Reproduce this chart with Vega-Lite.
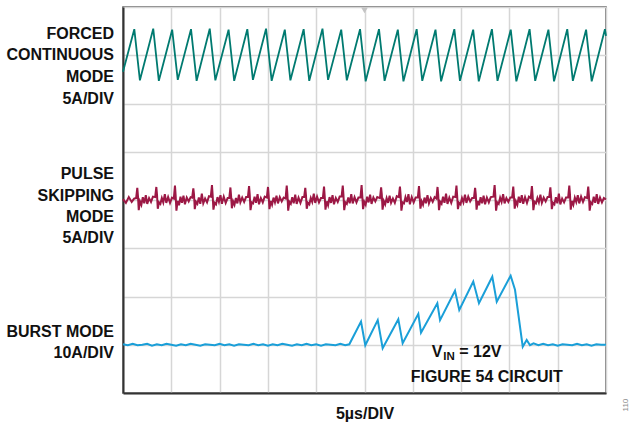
{
  "$schema": "https://vega.github.io/schema/vega-lite/v6.json",
  "width": 483,
  "height": 386,
  "autosize": {"type": "none"},
  "padding": {"left": 123, "top": 7, "right": 26, "bottom": 32},
  "background": "white",
  "config": {
    "view": {"stroke": "#555555", "strokeWidth": 1.5},
    "font": "Liberation Sans"
  },
  "datasets": {
    "fcm": [
      {"t":0,"v":6.66},
      {"t":1.17,"v":7.54},{"t":1.75,"v":6.48},
      {"t":3.13,"v":7.55},{"t":3.71,"v":6.47},
      {"t":5.09,"v":7.53},{"t":5.67,"v":6.49},
      {"t":7.04,"v":7.54},{"t":7.62,"v":6.47},
      {"t":8.98,"v":7.55},{"t":9.56,"v":6.48},
      {"t":10.93,"v":7.53},{"t":11.51,"v":6.47},
      {"t":12.87,"v":7.54},{"t":13.45,"v":6.49},
      {"t":14.81,"v":7.55},{"t":15.39,"v":6.47},
      {"t":16.75,"v":7.53},{"t":17.33,"v":6.48},
      {"t":18.70,"v":7.54},{"t":19.28,"v":6.47},
      {"t":20.65,"v":7.55},{"t":21.23,"v":6.49},
      {"t":22.59,"v":7.53},{"t":23.17,"v":6.48},
      {"t":24.54,"v":7.54},{"t":25.12,"v":6.46},
      {"t":26.50,"v":7.54},{"t":27.08,"v":6.47},
      {"t":28.45,"v":7.53},{"t":29.03,"v":6.46},
      {"t":30.40,"v":7.54},{"t":30.98,"v":6.47},
      {"t":32.35,"v":7.53},{"t":32.93,"v":6.46},
      {"t":34.30,"v":7.54},{"t":34.88,"v":6.47},
      {"t":36.25,"v":7.53},{"t":36.83,"v":6.46},
      {"t":38.19,"v":7.54},{"t":38.77,"v":6.47},
      {"t":40.14,"v":7.53},{"t":40.72,"v":6.46},
      {"t":42.09,"v":7.54},{"t":42.67,"v":6.47},
      {"t":44.04,"v":7.53},{"t":44.62,"v":6.46},
      {"t":45.99,"v":7.54},{"t":46.57,"v":6.47},
      {"t":47.94,"v":7.53},{"t":48.52,"v":6.46},
      {"t":49.89,"v":7.54},{"t":50.00,"v":7.40}
    ],
    "psm": [
      {"t":0,"v":4.02},{"t":0.30,"v":3.94},{"t":0.60,"v":4.06},{"t":0.90,"v":3.96},{"t":1.15,"v":4.03},
      {"t":1.36,"v":4.04},{"t":1.48,"v":4.25},{"t":1.55,"v":4.08},{"t":1.63,"v":3.79},{"t":1.76,"v":3.97},{"t":1.90,"v":3.90},{"t":2.05,"v":4.06},{"t":2.20,"v":3.93},{"t":2.36,"v":4.10},{"t":2.51,"v":3.92},{"t":2.70,"v":4.04},{"t":2.90,"v":3.96},{"t":3.10,"v":4.07},
      {"t":3.33,"v":4.06},{"t":3.45,"v":4.27},{"t":3.52,"v":4.11},{"t":3.60,"v":3.82},{"t":3.73,"v":3.95},{"t":3.87,"v":3.92},{"t":4.02,"v":4.04},{"t":4.17,"v":3.95},{"t":4.33,"v":4.12},{"t":4.48,"v":3.94},{"t":4.67,"v":4.06},{"t":4.87,"v":3.94},{"t":5.07,"v":4.05},
      {"t":5.26,"v":4.03},{"t":5.38,"v":4.30},{"t":5.45,"v":4.09},{"t":5.53,"v":3.78},{"t":5.66,"v":3.98},{"t":5.80,"v":3.89},{"t":5.95,"v":4.07},{"t":6.10,"v":3.94},{"t":6.26,"v":4.09},{"t":6.41,"v":3.91},{"t":6.60,"v":4.05},{"t":6.80,"v":3.97},{"t":7.00,"v":4.06},
      {"t":7.16,"v":4.05},{"t":7.28,"v":4.24},{"t":7.35,"v":4.12},{"t":7.43,"v":3.81},{"t":7.56,"v":3.96},{"t":7.70,"v":3.92},{"t":7.85,"v":4.05},{"t":8.00,"v":3.92},{"t":8.16,"v":4.13},{"t":8.31,"v":3.93},{"t":8.50,"v":4.03},{"t":8.70,"v":3.95},{"t":8.90,"v":4.08},
      {"t":9.09,"v":4.07},{"t":9.21,"v":4.31},{"t":9.28,"v":4.10},{"t":9.36,"v":3.80},{"t":9.49,"v":3.94},{"t":9.63,"v":3.91},{"t":9.78,"v":4.06},{"t":9.93,"v":3.96},{"t":10.09,"v":4.10},{"t":10.24,"v":3.92},{"t":10.43,"v":4.07},{"t":10.63,"v":3.94},{"t":10.83,"v":4.04},
      {"t":11.00,"v":4.04},{"t":11.12,"v":4.26},{"t":11.19,"v":4.08},{"t":11.27,"v":3.83},{"t":11.40,"v":3.97},{"t":11.54,"v":3.90},{"t":11.69,"v":4.04},{"t":11.84,"v":3.93},{"t":12.00,"v":4.11},{"t":12.15,"v":3.95},{"t":12.34,"v":4.05},{"t":12.54,"v":3.96},{"t":12.74,"v":4.06},
      {"t":12.93,"v":4.06},{"t":13.05,"v":4.29},{"t":13.12,"v":4.11},{"t":13.20,"v":3.79},{"t":13.33,"v":3.95},{"t":13.47,"v":3.93},{"t":13.62,"v":4.07},{"t":13.77,"v":3.94},{"t":13.93,"v":4.12},{"t":14.08,"v":3.91},{"t":14.27,"v":4.04},{"t":14.47,"v":3.95},{"t":14.67,"v":4.07},
      {"t":14.89,"v":4.05},{"t":15.01,"v":4.27},{"t":15.08,"v":4.09},{"t":15.16,"v":3.81},{"t":15.29,"v":3.98},{"t":15.43,"v":3.90},{"t":15.58,"v":4.05},{"t":15.73,"v":3.95},{"t":15.89,"v":4.09},{"t":16.04,"v":3.93},{"t":16.23,"v":4.06},{"t":16.43,"v":3.97},{"t":16.63,"v":4.05},
      {"t":16.83,"v":4.03},{"t":16.95,"v":4.30},{"t":17.02,"v":4.12},{"t":17.10,"v":3.78},{"t":17.23,"v":3.96},{"t":17.37,"v":3.92},{"t":17.52,"v":4.06},{"t":17.67,"v":3.93},{"t":17.83,"v":4.11},{"t":17.98,"v":3.92},{"t":18.17,"v":4.05},{"t":18.37,"v":3.94},{"t":18.57,"v":4.06},
      {"t":18.75,"v":4.06},{"t":18.87,"v":4.25},{"t":18.94,"v":4.10},{"t":19.02,"v":3.82},{"t":19.15,"v":3.94},{"t":19.29,"v":3.91},{"t":19.44,"v":4.04},{"t":19.59,"v":3.96},{"t":19.75,"v":4.13},{"t":19.90,"v":3.94},{"t":20.09,"v":4.07},{"t":20.29,"v":3.95},{"t":20.49,"v":4.04},
      {"t":20.69,"v":4.04},{"t":20.81,"v":4.28},{"t":20.88,"v":4.08},{"t":20.96,"v":3.80},{"t":21.09,"v":3.97},{"t":21.23,"v":3.89},{"t":21.38,"v":4.06},{"t":21.53,"v":3.94},{"t":21.69,"v":4.10},{"t":21.84,"v":3.91},{"t":22.03,"v":4.04},{"t":22.23,"v":3.96},{"t":22.43,"v":4.07},
      {"t":22.63,"v":4.07},{"t":22.75,"v":4.30},{"t":22.82,"v":4.11},{"t":22.90,"v":3.79},{"t":23.03,"v":3.95},{"t":23.17,"v":3.92},{"t":23.32,"v":4.05},{"t":23.47,"v":3.93},{"t":23.63,"v":4.12},{"t":23.78,"v":3.93},{"t":23.97,"v":4.06},{"t":24.17,"v":3.95},{"t":24.37,"v":4.05},
      {"t":24.58,"v":4.05},{"t":24.70,"v":4.31},{"t":24.77,"v":4.09},{"t":24.85,"v":3.81},{"t":24.98,"v":3.96},{"t":25.12,"v":3.90},{"t":25.27,"v":4.07},{"t":25.42,"v":3.95},{"t":25.58,"v":4.11},{"t":25.73,"v":3.92},{"t":25.92,"v":4.05},{"t":26.12,"v":3.97},{"t":26.32,"v":4.06},
      {"t":26.60,"v":4.04},{"t":26.72,"v":4.26},{"t":26.79,"v":4.12},{"t":26.87,"v":3.80},{"t":27.00,"v":3.98},{"t":27.14,"v":3.91},{"t":27.29,"v":4.04},{"t":27.44,"v":3.94},{"t":27.60,"v":4.09},{"t":27.75,"v":3.94},{"t":27.94,"v":4.03},{"t":28.14,"v":3.94},{"t":28.34,"v":4.08},
      {"t":28.55,"v":4.06},{"t":28.67,"v":4.28},{"t":28.74,"v":4.10},{"t":28.82,"v":3.78},{"t":28.95,"v":3.95},{"t":29.09,"v":3.93},{"t":29.24,"v":4.06},{"t":29.39,"v":3.96},{"t":29.55,"v":4.12},{"t":29.70,"v":3.91},{"t":29.89,"v":4.06},{"t":30.09,"v":3.95},{"t":30.29,"v":4.05},
      {"t":30.52,"v":4.05},{"t":30.64,"v":4.29},{"t":30.71,"v":4.08},{"t":30.79,"v":3.82},{"t":30.92,"v":3.97},{"t":31.06,"v":3.90},{"t":31.21,"v":4.05},{"t":31.36,"v":3.93},{"t":31.52,"v":4.10},{"t":31.67,"v":3.93},{"t":31.86,"v":4.04},{"t":32.06,"v":3.96},{"t":32.26,"v":4.06},
      {"t":32.44,"v":4.03},{"t":32.56,"v":4.27},{"t":32.63,"v":4.11},{"t":32.71,"v":3.79},{"t":32.84,"v":3.96},{"t":32.98,"v":3.92},{"t":33.13,"v":4.07},{"t":33.28,"v":3.94},{"t":33.44,"v":4.13},{"t":33.59,"v":3.92},{"t":33.78,"v":4.05},{"t":33.98,"v":3.94},{"t":34.18,"v":4.07},
      {"t":34.40,"v":4.06},{"t":34.52,"v":4.30},{"t":34.59,"v":4.09},{"t":34.67,"v":3.81},{"t":34.80,"v":3.94},{"t":34.94,"v":3.91},{"t":35.09,"v":4.04},{"t":35.24,"v":3.95},{"t":35.40,"v":4.11},{"t":35.55,"v":3.94},{"t":35.74,"v":4.07},{"t":35.94,"v":3.97},{"t":36.14,"v":4.04},
      {"t":36.33,"v":4.04},{"t":36.45,"v":4.25},{"t":36.52,"v":4.12},{"t":36.60,"v":3.80},{"t":36.73,"v":3.98},{"t":36.87,"v":3.89},{"t":37.02,"v":4.06},{"t":37.17,"v":3.93},{"t":37.33,"v":4.09},{"t":37.48,"v":3.91},{"t":37.67,"v":4.05},{"t":37.87,"v":3.95},{"t":38.07,"v":4.06},
      {"t":38.35,"v":4.07},{"t":38.47,"v":4.31},{"t":38.54,"v":4.10},{"t":38.62,"v":3.78},{"t":38.75,"v":3.95},{"t":38.89,"v":3.92},{"t":39.04,"v":4.05},{"t":39.19,"v":3.96},{"t":39.35,"v":4.12},{"t":39.50,"v":3.93},{"t":39.69,"v":4.04},{"t":39.89,"v":3.96},{"t":40.09,"v":4.05},
      {"t":40.28,"v":4.05},{"t":40.40,"v":4.28},{"t":40.47,"v":4.08},{"t":40.55,"v":3.82},{"t":40.68,"v":3.97},{"t":40.82,"v":3.90},{"t":40.97,"v":4.07},{"t":41.12,"v":3.94},{"t":41.28,"v":4.10},{"t":41.43,"v":3.92},{"t":41.62,"v":4.06},{"t":41.82,"v":3.94},{"t":42.02,"v":4.07},
      {"t":42.21,"v":4.04},{"t":42.33,"v":4.29},{"t":42.40,"v":4.11},{"t":42.48,"v":3.79},{"t":42.61,"v":3.96},{"t":42.75,"v":3.93},{"t":42.90,"v":4.04},{"t":43.05,"v":3.95},{"t":43.21,"v":4.11},{"t":43.36,"v":3.94},{"t":43.55,"v":4.05},{"t":43.75,"v":3.97},{"t":43.95,"v":4.06},
      {"t":44.12,"v":4.06},{"t":44.24,"v":4.26},{"t":44.31,"v":4.09},{"t":44.39,"v":3.81},{"t":44.52,"v":3.94},{"t":44.66,"v":3.91},{"t":44.81,"v":4.06},{"t":44.96,"v":3.93},{"t":45.12,"v":4.13},{"t":45.27,"v":3.91},{"t":45.46,"v":4.03},{"t":45.66,"v":3.95},{"t":45.86,"v":4.05},
      {"t":46.08,"v":4.05},{"t":46.20,"v":4.30},{"t":46.27,"v":4.12},{"t":46.35,"v":3.80},{"t":46.48,"v":3.98},{"t":46.62,"v":3.90},{"t":46.77,"v":4.05},{"t":46.92,"v":3.96},{"t":47.08,"v":4.10},{"t":47.23,"v":3.93},{"t":47.42,"v":4.07},{"t":47.62,"v":3.96},{"t":47.82,"v":4.06},
      {"t":48.04,"v":4.04},{"t":48.16,"v":4.28},{"t":48.23,"v":4.10},{"t":48.31,"v":3.78},{"t":48.44,"v":3.95},{"t":48.58,"v":3.92},{"t":48.73,"v":4.07},{"t":48.88,"v":3.94},{"t":49.04,"v":4.12},{"t":49.19,"v":3.92},{"t":49.38,"v":4.05},{"t":49.58,"v":3.95},{"t":49.78,"v":4.04},
      {"t":50.00,"v":4.01}
    ],
    "burst": [
      {"t":0,"v":1.01},{"t":0.5,"v":0.99},{"t":1.0,"v":1.02},{"t":1.5,"v":0.99},{"t":2.0,"v":1.00},{"t":2.5,"v":1.02},{"t":3.0,"v":0.98},{"t":3.5,"v":1.01},{"t":4.0,"v":0.99},{"t":4.5,"v":1.02},
      {"t":5.0,"v":1.00},{"t":5.5,"v":0.98},{"t":6.0,"v":1.01},{"t":6.5,"v":0.99},{"t":7.0,"v":1.02},{"t":7.5,"v":1.00},{"t":8.0,"v":0.98},{"t":8.5,"v":1.01},{"t":9.0,"v":1.00},{"t":9.5,"v":0.99},
      {"t":10.0,"v":1.02},{"t":10.5,"v":0.99},{"t":11.0,"v":1.01},{"t":11.5,"v":0.98},{"t":12.0,"v":1.01},{"t":12.5,"v":1.00},{"t":13.0,"v":0.99},{"t":13.5,"v":1.02},{"t":14.0,"v":0.99},{"t":14.5,"v":1.01},
      {"t":15.0,"v":0.98},{"t":15.5,"v":1.01},{"t":16.0,"v":0.99},{"t":16.5,"v":1.02},{"t":17.0,"v":1.00},{"t":17.5,"v":0.98},{"t":18.0,"v":1.01},{"t":18.5,"v":0.99},{"t":19.0,"v":1.02},{"t":19.5,"v":0.99},
      {"t":20.0,"v":1.01},{"t":20.5,"v":0.98},{"t":21.0,"v":1.01},{"t":21.5,"v":1.00},{"t":22.0,"v":0.99},{"t":22.5,"v":1.02},{"t":23.0,"v":0.99},{"t":23.43,"v":1.01},
      {"t":24.64,"v":1.48},{"t":25.08,"v":0.99},
      {"t":26.37,"v":1.51},{"t":26.88,"v":0.93},
      {"t":28.50,"v":1.53},{"t":28.95,"v":1.03},
      {"t":30.57,"v":1.64},{"t":30.85,"v":1.25},
      {"t":32.54,"v":1.86},{"t":32.82,"v":1.51},
      {"t":34.37,"v":2.12},{"t":34.81,"v":1.72},
      {"t":36.26,"v":2.31},{"t":36.85,"v":1.86},
      {"t":38.23,"v":2.41},{"t":38.69,"v":1.89},
      {"t":40.13,"v":2.43},{"t":40.58,"v":2.14},
      {"t":41.38,"v":0.96},{"t":41.79,"v":1.10},{"t":42.13,"v":0.99},
      {"t":42.5,"v":1.03},{"t":43.0,"v":0.99},{"t":43.5,"v":1.02},{"t":44.0,"v":0.99},{"t":44.5,"v":1.01},{"t":45.0,"v":0.98},{"t":45.5,"v":1.01},{"t":46.0,"v":1.00},{"t":46.5,"v":0.99},
      {"t":47.0,"v":1.02},{"t":47.5,"v":0.99},{"t":48.0,"v":1.01},{"t":48.5,"v":0.98},{"t":49.0,"v":1.01},{"t":49.5,"v":1.00},{"t":50.0,"v":1.00}
    ],
    "vticks": [
      {"v":0.2},{"v":0.4},{"v":0.6},{"v":0.8},{"v":1.2},{"v":1.4},{"v":1.6},{"v":1.8},
      {"v":2.2},{"v":2.4},{"v":2.6},{"v":2.8},{"v":3.2},{"v":3.4},{"v":3.6},{"v":3.8},
      {"v":4.2},{"v":4.4},{"v":4.6},{"v":4.8},{"v":5.2},{"v":5.4},{"v":5.6},{"v":5.8},
      {"v":6.2},{"v":6.4},{"v":6.6},{"v":6.8},{"v":7.2},{"v":7.4},{"v":7.6},{"v":7.8}
    ],
    "markers": [
      {"series":"fcm","v":7},
      {"series":"psm","v":4},
      {"series":"burst","v":1}
    ],
    "labels": [
      {"t":-0.93,"v":7.445,"text":"FORCED"},
      {"t":-0.93,"v":6.995,"text":"CONTINUOUS"},
      {"t":-0.93,"v":6.549,"text":"MODE"},
      {"t":-0.93,"v":6.097,"text":"5A/DIV"},
      {"t":-0.93,"v":4.543,"text":"PULSE"},
      {"t":-0.93,"v":4.093,"text":"SKIPPING"},
      {"t":-0.93,"v":3.648,"text":"MODE"},
      {"t":-0.93,"v":3.217,"text":"5A/DIV"},
      {"t":-0.93,"v":1.27,"text":"BURST MODE"},
      {"t":-0.93,"v":0.823,"text":"10A/DIV"}
    ]
  },
  "encoding": {
    "x": {"field": "t", "type": "quantitative", "scale": {"domain": [0, 50], "nice": false, "zero": false},
          "axis": {"values": [0,5,10,15,20,25,30,35,40,45,50], "grid": true, "gridColor": "#d6d6d6", "gridWidth": 1.5,
                   "labels": false, "ticks": false, "title": null, "domainColor": "#333333", "domainWidth": 2}},
    "y": {"field": "v", "type": "quantitative", "scale": {"domain": [0, 8], "nice": false, "zero": false},
          "axis": {"values": [0,1,2,3,4,5,6,7,8], "grid": true, "gridColor": "#d6d6d6", "gridWidth": 1.5,
                   "labels": false, "ticks": false, "title": null, "domainColor": "#333333", "domainWidth": 2}}
  },
  "layer": [
    {
      "data": {"name": "vticks"},
      "mark": {"type": "tick", "orient": "horizontal", "size": 6, "thickness": 1, "color": "#c2c2c2", "opacity": 1},
      "encoding": {"x": {"datum": 25, "type": "quantitative"}}
    },
    {
      "data": {"values": [{"t": 25, "v": 7.93}]},
      "mark": {"type": "point", "shape": "triangle-down", "filled": true, "size": 45, "color": "#c4c4c4", "opacity": 1}
    },
    {
      "data": {"name": "fcm"},
      "mark": {"type": "line", "color": "#007a70", "strokeWidth": 1.8}
    },
    {
      "data": {"name": "psm"},
      "mark": {"type": "line", "color": "#9c1845", "strokeWidth": 2}
    },
    {
      "data": {"name": "burst"},
      "mark": {"type": "line", "color": "#1a9fd8", "strokeWidth": 2}
    },
    {
      "data": {"name": "markers"},
      "mark": {"type": "rule", "strokeWidth": 1.2},
      "encoding": {
        "x": {"datum": -0.6, "type": "quantitative"},
        "x2": {"datum": 0},
        "color": {"field": "series", "type": "nominal",
                  "scale": {"domain": ["fcm","psm","burst"], "range": ["#2e8f86","#c0607f","#5cbbe4"]},
                  "legend": null}
      }
    },
    {
      "data": {"name": "labels"},
      "mark": {"type": "text", "align": "right", "baseline": "middle", "fontSize": 16, "fontWeight": "bold", "color": "#111111", "font": "Liberation Sans"},
      "encoding": {"text": {"field": "text"}}
    },
    {
      "data": {"values": [{"t": 25.05, "v": -0.441, "text": "5µs/DIV"}]},
      "mark": {"type": "text", "align": "center", "baseline": "middle", "fontSize": 16, "fontWeight": "bold", "color": "#111111", "font": "Liberation Sans"},
      "encoding": {"text": {"field": "text"}}
    },
    {
      "data": {"values": [
        {"t": 31.96, "v": 0.85, "text": "V", "size": 16},
        {"t": 33.16, "v": 0.755, "text": "IN", "size": 11.5},
        {"t": 34.81, "v": 0.85, "text": "= 12V", "size": 16},
        {"t": 29.78, "v": 0.338, "text": "FIGURE 54 CIRCUIT", "size": 16}
      ]},
      "mark": {"type": "text", "align": "left", "baseline": "middle", "fontWeight": "bold", "color": "#111111", "font": "Liberation Sans"},
      "encoding": {"text": {"field": "text"}, "size": {"field": "size", "type": "quantitative", "scale": null}}
    },
    {
      "data": {"values": [{"t": 52.1, "v": -0.25, "text": "110"}]},
      "mark": {"type": "text", "align": "center", "baseline": "middle", "angle": 270, "fontSize": 8, "color": "#8a8a8a", "font": "Liberation Sans"},
      "encoding": {"text": {"field": "text"}}
    }
  ]
}
